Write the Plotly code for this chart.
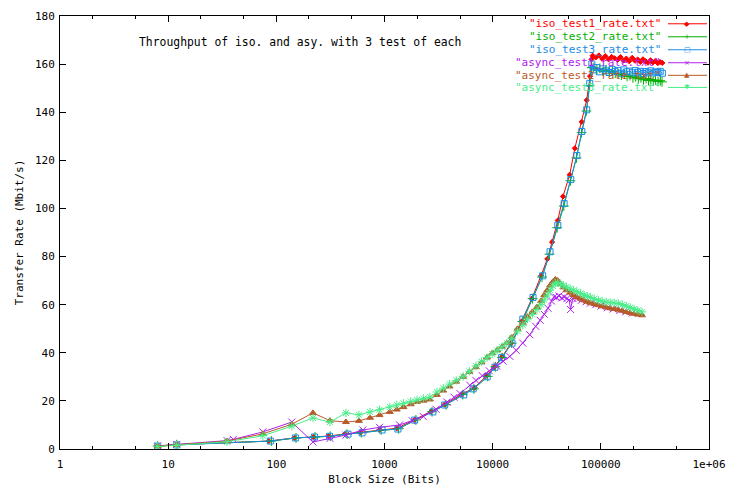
import plotly.graph_objects as go

# ---------------- data ----------------
ISO1_X = [8, 12, 85, 148, 220, 305, 430, 600, 900, 1300, 1900, 2700, 3600, 5200, 6800, 8800,
          10300, 12300, 14800, 18500, 23000, 28000, 32000, 35400, 40000, 44700, 51500, 57500,
          66600, 74000, 79500, 82000,
          84000, 90000, 96000, 103000, 110000, 118000, 126000, 134000, 143000, 152000, 162000,
          172000, 183000, 195000, 207000, 219000, 232000, 245000, 259000, 273000, 288000,
          303000, 319000, 336000, 353000, 370000]
ISO1_Y = [1.2, 1.8, 3.3, 4.6, 5.0, 5.4, 6.2, 6.9, 8.0, 8.6, 12.2, 15.6, 18.5, 22.8, 25.5, 30.5,
          34.0, 38.5, 44.0, 53.0, 62.5, 72.0, 79.0, 86.0, 95.0, 105.0, 114.0, 125.0,
          136.0, 145.0, 155.0, 162.0,
          163.5, 162.8, 163.6, 162.2, 163.3, 162.0, 163.0, 162.4, 161.8, 162.9, 161.5,
          162.3, 161.2, 162.6, 161.4, 161.9, 160.9, 162.0, 161.2, 160.6, 161.6, 160.7,
          161.3, 160.4, 160.9, 160.5]

ISO2_X = [8, 12, 90, 152, 228, 315, 450, 610, 930, 1350, 1950, 2750, 3700, 5300, 6700, 9000,
          10600, 12200, 15000, 18800, 23400, 28600, 33500, 39500, 45500, 52300, 59500, 66300,
          73500, 78800, 82300,
          86000, 92000, 98000, 105000, 112000, 120000, 128000, 136000, 145000, 155000, 165000,
          175000, 186000, 198000, 210000, 222000, 235000, 248000, 262000, 276000, 290000,
          305000, 320000, 338000, 355000, 368000]
ISO2_Y = [1.2, 1.8, 3.3, 4.6, 5.0, 5.3, 6.2, 6.8, 7.9, 8.4, 12.1, 15.5, 18.4, 22.6, 25.0, 30.2,
          34.2, 38.0, 44.0, 53.0, 62.5, 71.5, 81.0, 92.0, 101.0, 111.5, 121.0, 131.5,
          140.5, 151.0, 158.5,
          158.5, 157.6, 158.2, 157.0, 157.6, 156.8, 157.0, 156.2, 156.0, 155.4, 155.8,
          154.9, 155.2, 154.3, 154.7, 153.9, 154.3, 153.5, 154.0, 153.2, 153.6,
          153.0, 153.4, 152.8, 153.1, 152.6]

ISO3_X = [8, 12, 88, 150, 225, 310, 460, 620, 950, 1330, 1900, 2800, 3600, 5400, 6600, 8900,
          10500, 12100, 15100, 19000, 23600, 29000, 33900, 40000, 45800, 52700, 60000, 66700,
          74000, 79000, 82600,
          85000, 91000, 97000, 104000, 111000, 119000, 127000, 135000, 144000, 153000, 163000,
          173000, 184000, 196000, 208000, 220000, 233000, 246000, 260000, 274000, 289000,
          304000, 320000, 337000, 354000, 371000]
ISO3_Y = [1.2, 1.7, 3.3, 4.6, 5.0, 5.3, 6.2, 6.7, 7.9, 8.3, 12.0, 15.4, 18.3, 22.5, 25.0, 30.0,
          34.0, 38.0, 44.0, 54.0, 63.0, 72.0, 82.0, 93.0, 102.0, 112.0, 122.0, 132.0,
          141.0, 152.0, 160.0,
          157.6, 158.6, 156.8, 158.0, 157.2, 156.5, 157.8, 156.9, 157.4, 156.2, 157.6,
          156.8, 157.1, 156.4, 157.3, 156.6, 157.0, 156.1, 156.9, 156.4, 157.2,
          156.3, 156.8, 156.5, 157.0, 156.2]

ASYNC1_X = [8, 12, 35, 40, 75, 139, 218, 313, 440, 630, 900, 1380, 1800, 2280, 3000, 3770,
            4400, 5000, 6150, 7000, 8000, 9300, 10900, 12500, 14400, 16500, 19000, 22000,
            25000, 27500, 30000, 32500, 35000, 37000, 39000, 41000, 43500, 46000, 48500,
            51000, 52500, 55000, 60000, 66000, 73000, 80000, 90000, 100000, 115000, 130000,
            150000, 170000, 195000]
ASYNC1_Y = [1.3, 1.9, 3.5, 4.0, 7.1, 11.2, 2.9, 4.4, 5.8, 7.9, 9.0, 10.0, 11.8, 13.5, 16.5, 19.5,
            21.5, 23.0, 26.5, 28.5, 30.5, 32.5, 34.5, 36.5, 38.5, 41.0, 44.0, 47.5,
            51.0, 53.5, 56.0, 58.5, 61.5, 63.3, 63.0, 63.6, 62.8, 63.2, 62.5,
            62.0, 58.0, 62.6, 62.5, 61.8, 61.2, 60.6, 60.0, 59.4, 58.7, 58.2,
            57.6, 57.0, 56.5]

ASYNC_X = [8, 12, 35, 75, 139, 218, 313, 440, 580, 735, 900, 1120, 1300, 1500, 1750, 2000,
           2300, 2630, 3050, 3500, 4000, 4600, 5330, 6100, 7000, 7900, 8870, 9900, 11000,
           12200, 13500, 15000, 17000, 19000, 21000, 23300, 25700, 28000, 30000, 32000, 34000,
           36000, 38000, 40000, 42500, 45000, 48000, 52000, 56000, 60000, 65000, 70000, 75000,
           80000, 87000, 95000, 103000, 112000, 122000, 133000, 145000, 158000, 172000,
           187000, 203000, 220000, 240000]
ASYNC2_Y = [1.2, 1.8, 3.3, 6.3, 10.3, 15.0, 11.8, 11.2, 11.7, 13.0, 14.1, 15.4, 16.4, 17.4, 18.6, 19.6,
            20.1, 20.6, 22.5, 24.3, 26.0, 28.0, 30.0, 32.0, 34.0, 36.0, 38.0, 39.8, 41.0,
            42.5, 44.0, 46.5, 50.0, 52.5, 55.0, 57.0, 59.0, 61.5, 64.0, 66.0, 68.0,
            69.5, 70.5, 70.0, 68.5, 67.2, 66.0, 65.0, 64.0, 63.2, 62.5, 61.8, 61.2,
            60.8, 60.3, 59.8, 59.3, 58.9, 58.5, 58.2, 57.9, 57.5, 57.0,
            56.6, 56.2, 55.9, 55.6]
ASYNC3_Y = [1.0, 1.6, 3.0, 5.5, 9.5, 12.9, 11.2, 15.0, 14.2, 15.4, 16.3, 17.5, 18.3, 19.0, 19.8, 20.4,
            21.0, 21.6, 23.7, 25.3, 27.0, 28.5, 30.2, 32.3, 34.5, 36.3, 38.0, 39.5, 41.0,
            42.5, 44.0, 46.0, 49.0, 51.5, 54.0, 56.0, 58.0, 60.0, 62.0, 64.0, 66.0,
            67.8, 69.0, 69.2, 68.6, 68.0, 67.3, 66.6, 66.0, 65.4, 64.7, 64.0, 63.5,
            63.0, 62.4, 61.8, 61.4, 61.1, 60.9, 60.7, 60.5, 60.0, 59.4,
            58.8, 58.2, 57.6, 57.0]

SERIES_NAMES = ['"iso_test1_rate.txt"', '"iso_test2_rate.txt"', '"iso_test3_rate.txt"',
                '"async_test1_rate.txt"', '"async_test2_rate.txt"', '"async_test3_rate.txt"']
X_TICKS = [1, 10, 100, 1000, 10000, 100000, 1000000]
X_TICK_LABELS = ["1", "10", "100", "1000", "10000", "100000", "1e+06"]
Y_TICKS = [0, 20, 40, 60, 80, 100, 120, 140, 160, 180]

# ---------------- styles ----------------
COLORS = ["#ff0000", "#00b000", "#1a8ce6", "#b020f0", "#b85a28", "#48ee88"]
SYMBOLS = ["diamond", "cross-thin-open", "square-open", "x-thin-open", "triangle-up", "asterisk-open"]
SIZES = [4, 7, 6, 7, 6, 7]
GLYPHS = ["◆", "+", "□", "×", "▲", "✱"]
FONT = "DejaVu Sans Mono"

data_x = [ISO1_X, ISO2_X, ISO3_X, ASYNC1_X, ASYNC_X, ASYNC_X]
data_y = [ISO1_Y, ISO2_Y, ISO3_Y, ASYNC1_Y, ASYNC2_Y, ASYNC3_Y]

fig = go.Figure()
for i in range(6):
    fig.add_trace(go.Scatter(
        x=data_x[i], y=data_y[i], mode="lines+markers", name=SERIES_NAMES[i],
        line=dict(color=COLORS[i], width=1),
        marker=dict(symbol=SYMBOLS[i], size=SIZES[i], color=COLORS[i],
                    line=dict(color=COLORS[i], width=1)),
        showlegend=False))

# gnuplot-style key: text right-aligned, sample line to the right
row_y = [0.982, 0.952, 0.922, 0.892, 0.863, 0.835]
for i in range(6):
    fig.add_annotation(x=0.9295, y=row_y[i], xref="paper", yref="paper",
                       text=SERIES_NAMES[i], showarrow=False, xanchor="right", yanchor="middle",
                       font=dict(family=FONT, size=11, color=COLORS[i]))
    fig.add_shape(type="line", xref="paper", yref="paper", x0=0.9368, x1=0.9969,
                  y0=row_y[i], y1=row_y[i], line=dict(color=COLORS[i], width=1))
    fig.add_annotation(x=0.9668, y=row_y[i], xref="paper", yref="paper",
                       text=GLYPHS[i], showarrow=False, xanchor="center", yanchor="middle",
                       font=dict(family="DejaVu Sans", size=7, color=COLORS[i]))

fig.add_annotation(x=0.1186, y=0.94, xref="paper", yref="paper",
                   text="Throughput of iso. and asy. with 3 test of each", showarrow=False,
                   xanchor="left", yanchor="middle", font=dict(family=FONT, size=11.4, color="#000000"))

axis_common = dict(showline=True, linecolor="#000000", linewidth=1, mirror="allticks",
                   ticks="inside", ticklen=6, tickcolor="#000000", showgrid=False, zeroline=False,
                   automargin=False,
                   tickfont=dict(family=FONT, size=11, color="#000000"))

fig.update_xaxes(type="log", range=[0, 6], tickvals=X_TICKS, ticktext=X_TICK_LABELS,
                 ticklabelstandoff=5,
                 minor=dict(ticks="inside", ticklen=3, dtick="D2", tickcolor="#000000", showgrid=False),
                 title=dict(text="Block Size (Bits)", font=dict(family=FONT, size=11, color="#000000"),
                            standoff=6),
                 **axis_common)
fig.update_yaxes(range=[0, 180], tickvals=Y_TICKS, ticklabelstandoff=2,
                 title=dict(text="Transfer Rate (Mbit/s)", font=dict(family=FONT, size=11, color="#000000"),
                            standoff=9),
                 **axis_common)

# the page body adds an 8px offset; size and margins compensate so the plot box sits at 60..709 x 16..449
fig.update_layout(width=738, height=478, margin=dict(l=52, r=37, t=8, b=37),
                  plot_bgcolor="#ffffff", paper_bgcolor="#ffffff", showlegend=False)

fig.write_html("out.html")
